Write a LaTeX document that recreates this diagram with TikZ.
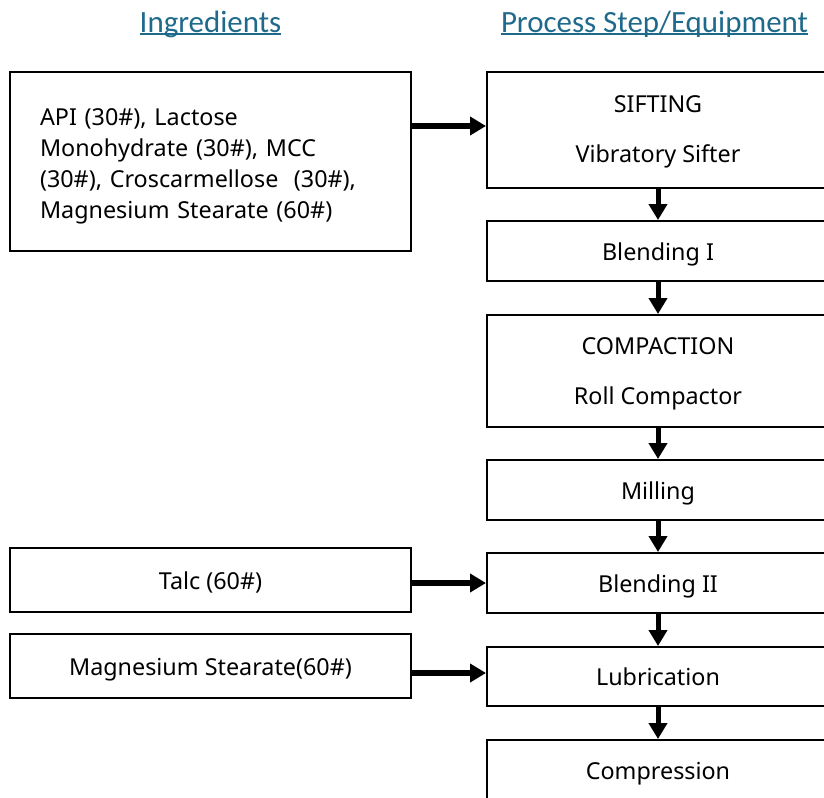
\documentclass[tikz,border=0pt]{standalone}
\usepackage{fontspec}
\setmainfont{Noto Sans}
\newfontfamily\headfont{Carlito}
\usetikzlibrary{arrows.meta}
\definecolor{headteal}{HTML}{1F6A8B}
% underlined heading text: rule just below the baseline
\newcommand{\hdul}[1]{\setbox0\hbox{#1}\rlap{\rule[-2.3pt]{\wd0}{1.3pt}}\box0}

\begin{document}
\begin{tikzpicture}[x=0.75pt, y=-0.75pt,
  header/.style={text=headteal, font=\headfont\fontsize{23.2}{27}\selectfont, anchor=base, inner sep=0pt},
  box/.style={draw=black, line width=1.5pt, rectangle, inner sep=0pt,
    font=\fontsize{17.5}{23.25}\selectfont, align=center,
    text height=16pt, text depth=2.5pt},
  stepbox/.style={box, minimum width=256.5pt},
  ingbox/.style={box, minimum width=300.75pt},
  % two-line centred text: baseline of the last line sits below the centre
  lastline/.style={text height=#1, text depth=0pt},
  % paragraph text: baseline of the first line sits above the centre
  firstline/.style={text height=0pt, text depth=#1},
  flow/.style={line width=3.75pt, -{Triangle[length=12pt, width=13.5pt]}},
  feed/.style={line width=5pt, -{Triangle[length=12pt, width=13.5pt]}}]

\clip (0,0) rectangle (824,797);

% column headings
\node[header] (hing)  at (210.5,32) {\hdul{Ingredients}};
\node[header] (hproc) at (654.5,32) {\hdul{Process Step/Equipment}};

% process steps (right column, running off the right edge)
\node[stepbox, minimum height=87pt, lastline=48pt]   (sift)    at (658,130)   {SIFTING\\[14.25pt]Vibratory Sifter};
\node[stepbox, minimum height=45pt]                  (blend1)  at (658,251)   {Blending I};
\node[stepbox, minimum height=84pt, lastline=50pt]   (compact) at (658,371)   {COMPACTION\\[14.5pt]Roll Compactor};
\node[stepbox, minimum height=45pt]                  (mill)    at (658,490)   {Milling};
\node[stepbox, minimum height=45pt]                  (blend2)  at (658,583)   {Blending II};
\node[stepbox, minimum height=44.25pt]               (lub)     at (658,676.5) {Lubrication};
\node[stepbox, minimum height=45pt]                  (comp)    at (658,770)   {Compression};

% ingredients (left column)
\node[ingbox, minimum height=134.25pt, text width=255.75pt, align=left, firstline=54.75pt] (ing1) at (210.5,161.5)
  {API (30\#), Lactose\\Monohydrate (30\#), MCC\\(30\#), Croscarmellose\ \ (30\#),\\Magnesium Stearate (60\#)};
\node[ingbox, minimum height=48pt] (talc) at (210.5,580) {Talc (60\#)};
\node[ingbox, minimum height=48pt] (mag)  at (210.5,666) {Magnesium Stearate(60\#)};

% feed arrows into the process line
\path (sift.west) ++(0,-4) coordinate (in1);
\path (lub.west) ++(0,-3.5) coordinate (in3);
\draw[feed] (ing1.east |- in1) -- (in1);
\draw[feed] (talc.east |- blend2.west) -- (blend2.west);
\draw[feed] (mag.east |- in3) -- (in3);

% process flow
\draw[flow] (sift.south)    -- (blend1.north);
\draw[flow] (blend1.south)  -- (compact.north);
\draw[flow] (compact.south) -- (mill.north);
\draw[flow] (mill.south)    -- (blend2.north);
\draw[flow] (blend2.south)  -- (lub.north);
\draw[flow] (lub.south)     -- (comp.north);
\end{tikzpicture}
\end{document}
